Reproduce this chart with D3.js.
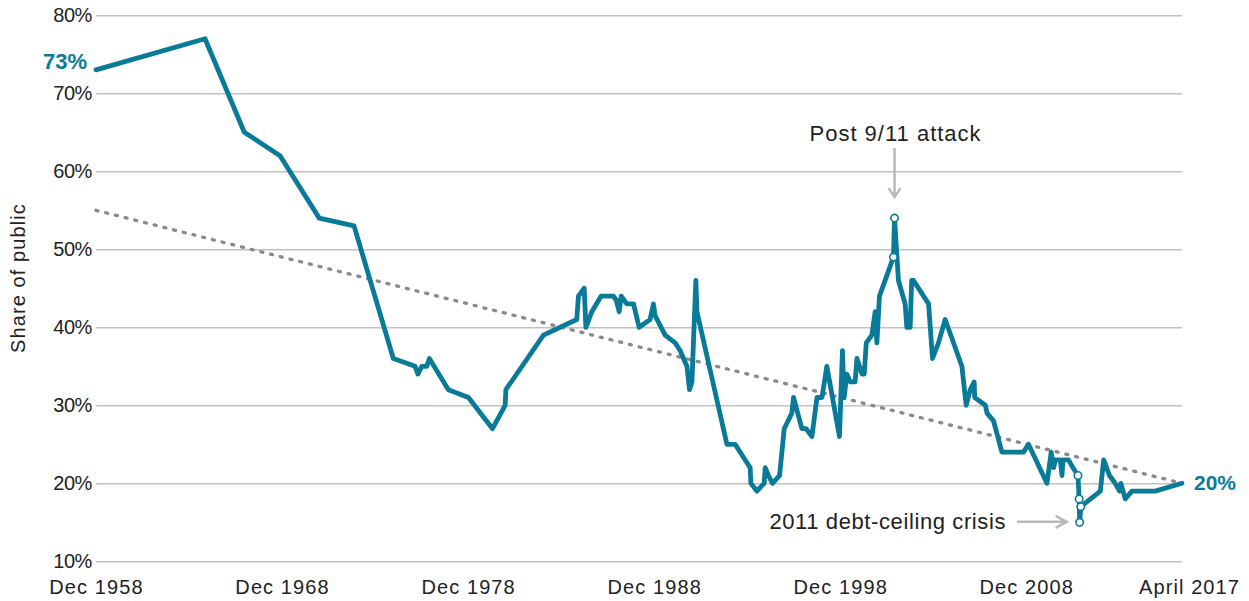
<!DOCTYPE html>
<html>
<head>
<meta charset="utf-8">
<script src="https://cdn.jsdelivr.net/npm/d3@7"></script>
<style>
  html, body { margin: 0; padding: 0; background: #fff; }
  svg { display: block; font-family: "Liberation Sans", Arial, sans-serif; }
</style>
</head>
<body>
<svg id="chart" width="1249" height="601"></svg>
<script>
// ---------- DATA ----------
const years = [
  1958.92, 1964.78, 1966.89, 1968.81, 1970.92, 1972.79, 1974.90, 1976.07, 1976.22, 1976.43,
  1976.70, 1976.84, 1977.86, 1978.94, 1980.23, 1980.91, 1980.95, 1982.97, 1983.87, 1984.76,
  1984.85, 1985.16, 1985.25, 1985.57, 1986.07, 1986.73, 1986.88, 1987.04, 1987.15, 1987.45,
  1987.81, 1988.11, 1988.70, 1988.88, 1988.97, 1989.51, 1990.05, 1990.32, 1990.68, 1990.82,
  1990.95, 1991.16, 1991.22, 1991.93, 1992.83, 1993.27, 1994.08, 1994.12, 1994.44, 1994.83,
  1994.89, 1995.06, 1995.28, 1995.66, 1995.91, 1996.32, 1996.41, 1996.86, 1997.09, 1997.40,
  1997.67, 1997.94, 1998.20, 1998.88, 1999.04, 1999.13, 1999.28, 1999.46, 1999.72, 1999.82,
  2000.09, 2000.21, 2000.32, 2000.62, 2000.80, 2000.89, 2001.03, 2001.78, 2001.84, 2002.05,
  2002.41, 2002.50, 2002.68, 2002.76, 2002.86, 2003.67, 2003.88, 2004.20, 2004.56, 2005.46,
  2005.69, 2005.91, 2006.12, 2006.15, 2006.72, 2006.81, 2007.16, 2007.61, 2008.60, 2008.77,
  2009.04, 2010.03, 2010.26, 2010.39, 2010.48, 2010.75, 2010.84, 2010.89, 2011.19, 2011.43,
  2011.70, 2011.76, 2011.79, 2011.85, 2012.90, 2013.08, 2013.39, 2013.70, 2013.93, 2014.00,
  2014.24, 2014.60, 2015.85, 2017.29
];
const shares = [
  73, 77, 65, 62, 54, 53, 36, 35, 34, 35,
  35, 36, 32, 31, 27, 30, 32, 39, 40, 41,
  44, 45, 40, 42, 44, 44, 43.5, 42, 44, 43,
  43, 40, 41, 43, 41.5, 39, 38, 37, 35, 32,
  33, 46, 42, 34.5, 25, 25, 22, 20, 19, 20,
  22, 21, 20, 21, 27, 29, 31, 27, 27, 26,
  31, 31, 35, 26, 37, 31, 34, 33, 33, 36,
  34, 34, 38, 39, 42, 38, 44, 49, 54, 46,
  43, 40, 40, 46, 46, 43, 36, 38, 41, 35,
  30, 32, 33, 31, 30, 29, 28, 24, 24, 24,
  25, 20, 24, 22, 23, 23, 21, 23, 23, 22,
  21, 18, 15, 17, 19, 23, 21, 20, 19, 20,
  18, 19, 19, 20
];
const circleYears  = [2001.78, 2001.84, 2011.70, 2011.76, 2011.79, 2011.85];
const circleShares = [49, 54, 21, 18, 15, 17];

const trendYears  = [1958.92, 2017.29];
const trendShares = [55, 20];

const yTickValues = [10, 20, 30, 40, 50, 60, 70, 80];
const xTickYears  = [1958.92, 1968.92, 1978.92, 1988.92, 1998.92, 2008.92, 2017.29];
const xTickLabels = ["Dec 1958", "Dec 1968", "Dec 1978", "Dec 1988", "Dec 1998", "Dec 2008", "April 2017"];

// ---------- LAYOUT ----------
const TEAL = "#0a7a99";
const svg = d3.select("#chart");
const plotLeft = 96, plotRight = 1182, plotTop = 15.3, plotBottom = 561.3;

const x = d3.scaleLinear().domain([1958.92, 2017.29]).range([plotLeft, plotRight]);
const y = d3.scaleLinear().domain([10, 80]).range([plotBottom, plotTop]);

// gridlines + y labels
const yAxis = svg.append("g")
  .attr("transform", `translate(${plotLeft},0)`)
  .call(d3.axisLeft(y).tickValues(yTickValues).tickSize(-(plotRight - plotLeft)).tickPadding(4)
        .tickFormat(d => d + "%"));
yAxis.select(".domain").remove();
yAxis.selectAll(".tick line").attr("stroke", "#c2c2c2").attr("stroke-width", 1.5);
yAxis.selectAll(".tick text")
  .attr("font-size", 20).attr("fill", "#222").attr("letter-spacing", "-0.4")
  .attr("font-family", "'Liberation Sans', Arial, sans-serif");

// x labels
const xAxis = svg.append("g")
  .attr("transform", `translate(0,${plotBottom})`)
  .call(d3.axisBottom(x).tickValues(xTickYears).tickSize(0).tickPadding(0)
        .tickFormat((d, i) => xTickLabels[i]));
xAxis.select(".domain").remove();
xAxis.selectAll(".tick text")
  .attr("font-size", 20).attr("fill", "#222").attr("letter-spacing", "1.1")
  .attr("font-family", "'Liberation Sans', Arial, sans-serif")
  .attr("dy", null).attr("y", 33)
  .attr("dx", (d, i) => i === xTickLabels.length - 1 ? 7 : 0);

// y title
svg.append("text")
  .attr("transform", "translate(25,278) rotate(-90)")
  .attr("text-anchor", "middle")
  .attr("font-size", 20).attr("letter-spacing", "1.1").attr("fill", "#222")
  .text("Share of public");

// trend line
svg.append("path")
  .datum(trendYears.map((t, i) => [t, trendShares[i]]))
  .attr("d", d3.line().x(d => x(d[0])).y(d => y(d[1])))
  .attr("fill", "none").attr("stroke", "#8a8a8a").attr("stroke-width", 3.3)
  .attr("stroke-linecap", "round").attr("stroke-dasharray", "2,8");

// main line
svg.append("path")
  .datum(years.map((t, i) => [t, shares[i]]))
  .attr("d", d3.line().x(d => x(d[0])).y(d => y(d[1])))
  .attr("fill", "none").attr("stroke", TEAL).attr("stroke-width", 4.8)
  .attr("stroke-linejoin", "round").attr("stroke-linecap", "round");

// highlighted points
svg.selectAll("circle.hl")
  .data(circleYears.map((t, i) => [t, circleShares[i]]))
  .join("circle").attr("class", "hl")
  .attr("cx", d => x(d[0])).attr("cy", d => y(d[1])).attr("r", 3.7)
  .attr("fill", "#fff").attr("stroke", TEAL).attr("stroke-width", 1.6);

// end labels
svg.append("text").attr("x", x(years[0]) - 9).attr("y", y(shares[0]) - 1)
  .attr("text-anchor", "end").attr("font-size", 22).attr("font-weight", "bold")
  .attr("fill", TEAL).text(shares[0] + "%");
svg.append("text").attr("x", x(years[years.length - 1]) + 12).attr("y", y(shares[shares.length - 1]) + 7)
  .attr("text-anchor", "start").attr("font-size", 21).attr("font-weight", "bold")
  .attr("fill", TEAL).text(shares[shares.length - 1] + "%");

// annotations
const ARROW = "#b8b8b8";
const px911 = x(2001.84), py911 = y(54);
svg.append("text").attr("x", px911 + 1).attr("y", 141)
  .attr("text-anchor", "middle").attr("font-size", 22).attr("letter-spacing", "1")
  .attr("fill", "#222").text("Post 9/11 attack");
svg.append("path")
  .attr("d", `M${px911},148 V${py911 - 21} M${px911 - 6},${py911 - 30} L${px911},${py911 - 21} L${px911 + 6},${py911 - 30}`)
  .attr("fill", "none").attr("stroke", ARROW).attr("stroke-width", 2.5);

const pxDebt = x(2011.79), pyDebt = y(15);
svg.append("text").attr("x", 1006).attr("y", pyDebt + 7)
  .attr("text-anchor", "end").attr("font-size", 22).attr("letter-spacing", "0.6")
  .attr("fill", "#222").text("2011 debt-ceiling crisis");
svg.append("path")
  .attr("d", `M1017,${pyDebt - 0.5} H${pxDebt - 13} M${pxDebt - 24},${pyDebt - 6.5} L${pxDebt - 13},${pyDebt - 0.5} L${pxDebt - 24},${pyDebt + 5.5}`)
  .attr("fill", "none").attr("stroke", ARROW).attr("stroke-width", 2.5);
</script>
</body>
</html>
